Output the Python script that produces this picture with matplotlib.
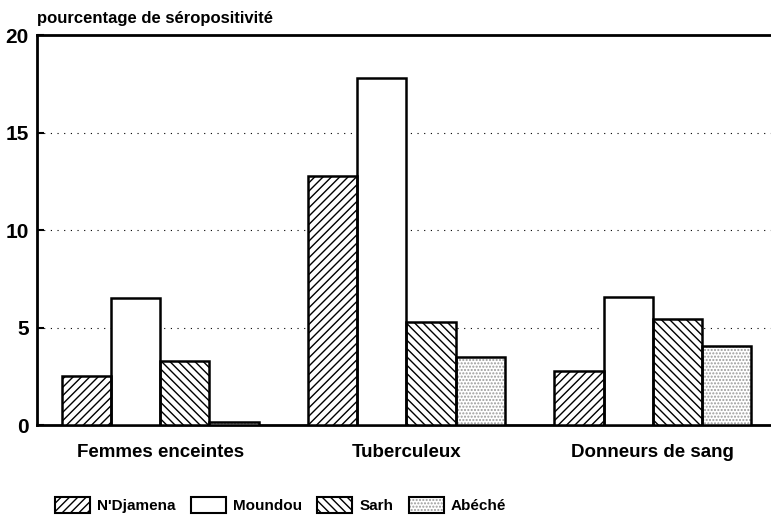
import matplotlib.pyplot as plt
import numpy as np

groups = ["Femmes enceintes", "Tuberculeux", "Donneurs de sang"]
series = ["N'Djamena", "Moundou", "Sarh", "Abéché"]
ndjamena = [2.5, 12.8, 2.75]
moundou = [6.5, 17.8, 6.55]
sarh = [3.3, 5.3, 5.45]
abeche = [0.15, 3.5, 4.05]

values = [ndjamena, moundou, sarh, abeche]
hatches = ["////", "", "\\\\\\\\", "....."]
hatch_cols = ["black", "black", "black", "#9a9a9a"]

plt.rcParams['font.family'] = ['Liberation Sans', 'DejaVu Sans']
plt.rcParams['hatch.linewidth'] = 1.0

fig = plt.figure(figsize=(7.71, 5.26), dpi=100)
ax = fig.add_axes([0.048, 0.192, 0.952, 0.741])

x = np.arange(len(groups))
w = 0.2
handles = []
for i, (vals, h, hc, name) in enumerate(zip(values, hatches, hatch_cols, series)):
    pos = x + (i - 1.5) * w
    # hatch layer, then black outline on top
    fill = ax.bar(pos, vals, w, color="white", edgecolor=hc, hatch=h, linewidth=0, zorder=3)
    edge = ax.bar(pos, vals, w, fill=False, edgecolor="black", linewidth=1.8, zorder=4)
    handles.append((
        plt.Rectangle((0, 0), 1, 1, facecolor="white", edgecolor=hc, hatch=h, linewidth=0),
        plt.Rectangle((0, 0), 1, 1, fill=False, edgecolor="black", linewidth=1.5),
    ))

ax.set_xlim(-0.5, 2.48)
ax.set_ylim(0, 20)
ax.set_yticks([0, 5, 10, 15, 20])
ax.set_xticks(x)
ax.set_xticklabels(groups, fontsize=13.5, fontweight="bold")
ax.tick_params(axis="x", length=0, pad=14)
ax.tick_params(axis="y", direction="in", length=5, width=1.5, labelsize=15, pad=6)
for lab in ax.get_yticklabels():
    lab.set_fontweight("bold")

for yv in [5, 10, 15]:
    ax.axhline(yv, color="black", linestyle=(0, (1, 5)), linewidth=0.8, zorder=1)

ax.spines["right"].set_visible(False)
for s in ["left", "bottom", "top"]:
    ax.spines[s].set_linewidth(2)

fig.text(0.048, 0.964, "pourcentage de séropositivité", fontsize=12,
         fontweight="bold", ha="left", va="center")

fig.legend(handles, series, loc="center left", bbox_to_anchor=(55 / 771, 1 - 505 / 526),
           ncol=4, frameon=False, borderpad=0, borderaxespad=0,
           prop={"weight": "bold", "size": 11}, handlelength=2.3, handleheight=1.3,
           columnspacing=1.0, handletextpad=0.45)

fig.savefig("out.png", dpi=100)
